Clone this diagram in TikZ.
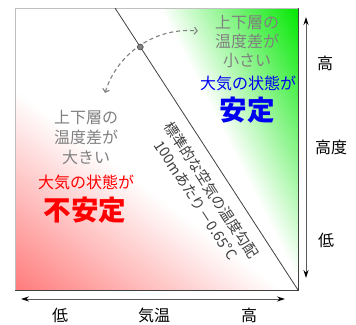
\documentclass[tikz,border=0pt]{standalone}
\usepackage{fontspec}
\setmainfont{Noto Sans CJK JP}
\usetikzlibrary{arrows.meta}
\definecolor{gtxt}{RGB}{128,128,128}
\definecolor{redtxt}{RGB}{255,0,0}
\definecolor{bluetxt}{RGB}{0,0,240}
\definecolor{pinkc}{RGB}{255,122,122}
\definecolor{greenc}{RGB}{0,232,0}
\definecolor{boxlight}{RGB}{192,192,192}
\definecolor{boxdark}{RGB}{64,64,64}
\definecolor{dtext}{RGB}{64,64,64}
\definecolor{axisc}{RGB}{90,90,90}
\tikzset{
  graytext/.style={text=gtxt, align=center, font=\fontsize{16}{20}\selectfont, inner sep=0pt},
  statetext/.style={font=\fontsize{16}{20}\selectfont, inner sep=0pt},
  bigtext/.style={font=\fontsize{27.5}{30}\selectfont\bfseries, inner sep=0pt},
  axislabel/.style={font=\fontsize{16}{20}\selectfont, text=black, inner sep=0pt},
  axisline/.style={draw=axisc, line width=0.9pt, {Stealth[length=8pt,width=5pt,black]}-{Stealth[length=8pt,width=5pt,black]}},
  swing/.style={draw=gtxt, line width=1.1pt, dash pattern=on 4pt off 3pt, {Straight Barb[length=3pt,width=7pt]}-{Straight Barb[length=3pt,width=7pt]}},
}
\begin{document}
\begin{tikzpicture}[x=1pt,y=-1pt]
\useasboundingbox (0,0) rectangle (356,324);
\fill[white] (0,0) rectangle (356,324);
% red side
\begin{scope}
  \clip (15,8) -- (115,8) -- (298,290) -- (15,290) -- cycle;
  \begin{scope}[shift={(15,90)}, rotate=-126.7]
    \foreach \d in {0,...,163} {
      \pgfmathsetmacro\p{min(100,\d/161.2*100)}
      \fill[pinkc!\p!white] (\d pt,-400pt) rectangle (\d pt+1.5pt,400pt);
    }
  \end{scope}
\end{scope}
% green side
\begin{scope}
  \clip (115,8) -- (298,8) -- (298,290) -- cycle;
  \begin{scope}[shift={(160,8)}, rotate=26.9]
    \foreach \d in {0,...,126} {
      \pgfmathsetmacro\p{min(100,\d/123*100)}
      \fill[greenc!\p!white] (\d pt,-400pt) rectangle (\d pt+1.5pt,400pt);
    }
  \end{scope}
\end{scope}
% frame
\coordinate (tl) at (15,8);
\coordinate (tr) at (298,8);
\coordinate (bl) at (15,290);
\coordinate (br) at (298,290);
\draw[boxlight, line width=0.8pt] (bl) -- (tl) -- (tr);
\draw[boxdark, line width=0.8pt] (tr) -- (br) -- (bl);
% diagonal
\coordinate (dtop) at (115,8);
\draw[dtext, line width=0.8pt] (dtop) -- (br);
% swing arc
\coordinate (arcA) at (105.05,92.87);
\draw[swing] (arcA) arc[start angle=197, end angle=275.7, radius=88];
\node[circle, fill=gtxt, draw=boxdark, line width=0.5pt, minimum size=6pt, inner sep=0pt] (pivot) at (140.3,47) {};
% diagonal text
\node[rotate=-57, align=center, text=dtext, font=\fontsize{14.5}{18.5}\selectfont, inner sep=0pt] (grad) at (204,195) {標準的な空気の温度勾配\\100mあたり－0.65°C};
% left texts
\node[graytext] (ldiff) at (86,138) {上下層の\\温度差が\\大きい};
\node[statetext, text=redtxt] (lstate) at (86,182) {大気の状態が};
\node[bigtext, text=redtxt] (unstable) at (85,210) {不安定};
% right texts
\node[graytext, font=\fontsize{16}{19}\selectfont] (rdiff) at (247,42) {上下層の\\温度差が\\小さい};
\node[statetext, text=bluetxt] (rstate) at (248,83) {大気の状態が};
\node[bigtext, text=bluetxt] (stable) at (247,110) {安定};
% axes
\coordinate (vtop) at (306,17);
\coordinate (vbot) at (306,278);
\draw[axisline] (vtop) -- (vbot);
\coordinate (hleft) at (21,299);
\coordinate (hright) at (285,299);
\draw[axisline] (hleft) -- (hright);
\node[axislabel] (hhigh) at (325,63) {高};
\node[axislabel] (hname) at (331,147) {高度};
\node[axislabel] (hlow) at (326,240) {低};
\node[axislabel] (tlow) at (60,315) {低};
\node[axislabel] (tname) at (154,315) {気温};
\node[axislabel] (thigh) at (249,315) {高};
\end{tikzpicture}
\end{document}
